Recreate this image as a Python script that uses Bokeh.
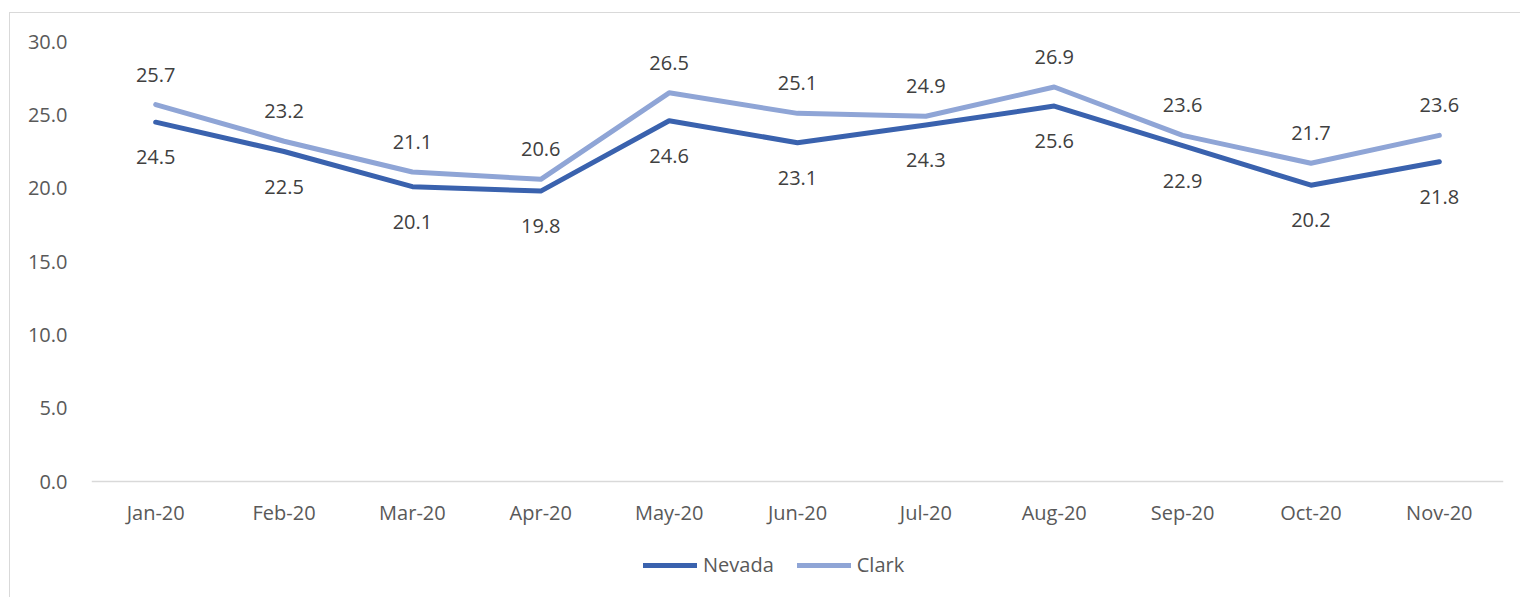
from bokeh.plotting import figure
from bokeh.models import (FactorRange, Range1d, FixedTicker, PrintfTickFormatter,
                          Legend, LegendItem, ColumnDataSource)
from bokeh.core.properties import value
from bokeh.embed import file_html
from bokeh.resources import INLINE

months = ["Jan-20", "Feb-20", "Mar-20", "Apr-20", "May-20", "Jun-20",
          "Jul-20", "Aug-20", "Sep-20", "Oct-20", "Nov-20"]
nevada = [24.5, 22.5, 20.1, 19.8, 24.6, 23.1, 24.3, 25.6, 22.9, 20.2, 21.8]
clark = [25.7, 23.2, 21.1, 20.6, 26.5, 25.1, 24.9, 26.9, 23.6, 21.7, 23.6]
y_ticks = [0, 5, 10, 15, 20, 25, 30]

NEV_COLOR = "#3A62AE"
CLK_COLOR = "#8FA5D6"
FONT = "Open Sans"

src = ColumnDataSource(dict(
    m=months, nev=nevada, clk=clark,
    nev_t=[f"{v:.1f}" for v in nevada],
    clk_t=[f"{v:.1f}" for v in clark],
))

# frame: top at 41px (y=30), x-axis (y=0) at 481px, frame bottom at 598px
y_bottom = -(598 - 481) * 30.0 / (481 - 41)

p = figure(x_range=FactorRange(*months), y_range=Range1d(y_bottom, 30),
           width=1511, height=585, output_backend="svg", toolbar_location=None,
           min_border_left=81, min_border_right=18, min_border_top=28,
           min_border_bottom=0)
p.margin = (13, 0, 0, 10)
p.styles = {"box-shadow": "-1px -1px 0 0 #D9D9D9"}
p.outline_line_color = None
p.grid.grid_line_color = None
p.background_fill_color = "white"
p.border_fill_color = "white"

r_nev = p.line("m", "nev", source=src, line_color=NEV_COLOR, line_width=5,
               line_join="round", line_cap="round")
r_clk = p.line("m", "clk", source=src, line_color=CLK_COLOR, line_width=5,
               line_join="round", line_cap="round")

p.text("m", "clk", text="clk_t", source=src, y_offset=-30,
       text_align="center", text_baseline="middle", text_color="#404040",
       text_font=value(FONT), text_font_size="20px")
p.text("m", "nev", text="nev_t", source=src, y_offset=35,
       text_align="center", text_baseline="middle", text_color="#404040",
       text_font=value(FONT), text_font_size="20px")

# axes
p.yaxis.ticker = FixedTicker(ticks=y_ticks)
p.yaxis.formatter = PrintfTickFormatter(format="%.1f")
p.yaxis.axis_line_color = None
p.yaxis.major_tick_line_color = None
p.yaxis.minor_tick_line_color = None
p.yaxis.major_label_standoff = 18
p.yaxis.major_label_text_font = FONT
p.yaxis.major_label_text_font_size = "20px"
p.yaxis.major_label_text_color = "#595959"

p.xaxis.fixed_location = 0
p.xaxis.axis_line_color = "#D9D9D9"
p.xaxis.axis_line_width = 1.3
p.xaxis.major_tick_line_color = None
p.xaxis.minor_tick_line_color = None
p.xaxis.major_label_standoff = 11
p.xaxis.major_label_text_font = FONT
p.xaxis.major_label_text_font_size = "20px"
p.xaxis.major_label_text_color = "#595959"

legend = Legend(items=[LegendItem(label="Nevada", renderers=[r_nev]),
                       LegendItem(label="Clark", renderers=[r_clk])],
                orientation="horizontal", location=(552, 20),
                glyph_width=54, glyph_height=20, label_standoff=6, spacing=23,
                padding=0, margin=0, border_line_color=None,
                background_fill_alpha=0,
                label_text_font=FONT, label_text_font_size="20px",
                label_text_color="#595959", label_height=20)
p.add_layout(legend, "center")

open("out.html", "w").write(file_html(p, INLINE))
